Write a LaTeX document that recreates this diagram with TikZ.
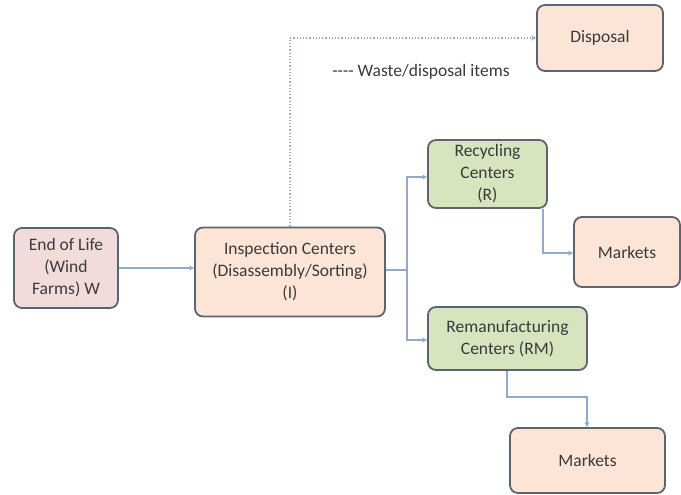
\documentclass[tikz,border=0pt]{standalone}
\usepackage{fontspec}
\setmainfont{Carlito}
\usetikzlibrary{arrows.meta}
\definecolor{bordc}{HTML}{5C6470}
\definecolor{pinkf}{HTML}{F2DCDB}
\definecolor{peachf}{HTML}{FCE4D6}
\definecolor{greenf}{HTML}{D7E4BD}
\definecolor{linec}{HTML}{8FAACB}
\definecolor{txtc}{HTML}{3A3A3A}
\tikzset{
  boxst/.style={draw=bordc, line width=1.8pt, rounded corners=8pt, align=center,
    font=\fontsize{17.5}{22}\selectfont, text=txtc, inner sep=2pt},
  conn/.style={draw=linec, line width=1.2pt, -{Stealth[length=5pt,width=5pt]}},
  dotconn/.style={conn, dotted}
}
\begin{document}
\begin{tikzpicture}[x=1pt,y=-1pt]
\useasboundingbox (0,0) rectangle (681,495);
\node[boxst, fill=pinkf, minimum width=104pt, minimum height=80pt] (W) at (66,268) {End of Life\\(Wind\\Farms) W};
\node[boxst, fill=peachf, minimum width=190pt, minimum height=89pt] (I) at (290,272) {Inspection Centers\\(Disassembly/Sorting)\\(I)};
\node[boxst, fill=peachf, minimum width=126pt, minimum height=66pt] (D) at (600,38) {Disposal};
\node[boxst, fill=greenf, minimum width=119pt, minimum height=68pt] (R) at (487.5,174) {Recycling\\Centers\\(R)};
\node[boxst, fill=peachf, minimum width=106pt, minimum height=70pt] (M1) at (627,252) {Markets};
\node[boxst, fill=greenf, minimum width=159pt, minimum height=63pt] (RM) at (507.5,338.5) {Remanufacturing\\Centers (RM)};
\node[boxst, fill=peachf, minimum width=155pt, minimum height=65pt] (M2) at (587.5,460.5) {Markets};
\node[font=\fontsize{17.5}{20}\selectfont, text=txtc] (lbl) at (421,72) {-{}-{}-{}- Waste/disposal items};

\coordinate (br) at (407,270);
\draw[conn] (W.east |- 0,268) -- (I.west |- 0,268);
\draw[draw=linec, line width=1.2pt] (I.east |- br) -- (br);
\draw[conn] (br) |- (R.west |- 0,177);
\draw[conn] (br) |- (RM.west |- 0,340);
\draw[conn] (R.south -| 543,0) |- (M1.west |- 0,253);
\draw[conn] (RM.south -| 507,0) |- (587,397) -- (M2.north -| 587,0);
\draw[dotconn] (I.north) |- (D.west);
\end{tikzpicture}
\end{document}
